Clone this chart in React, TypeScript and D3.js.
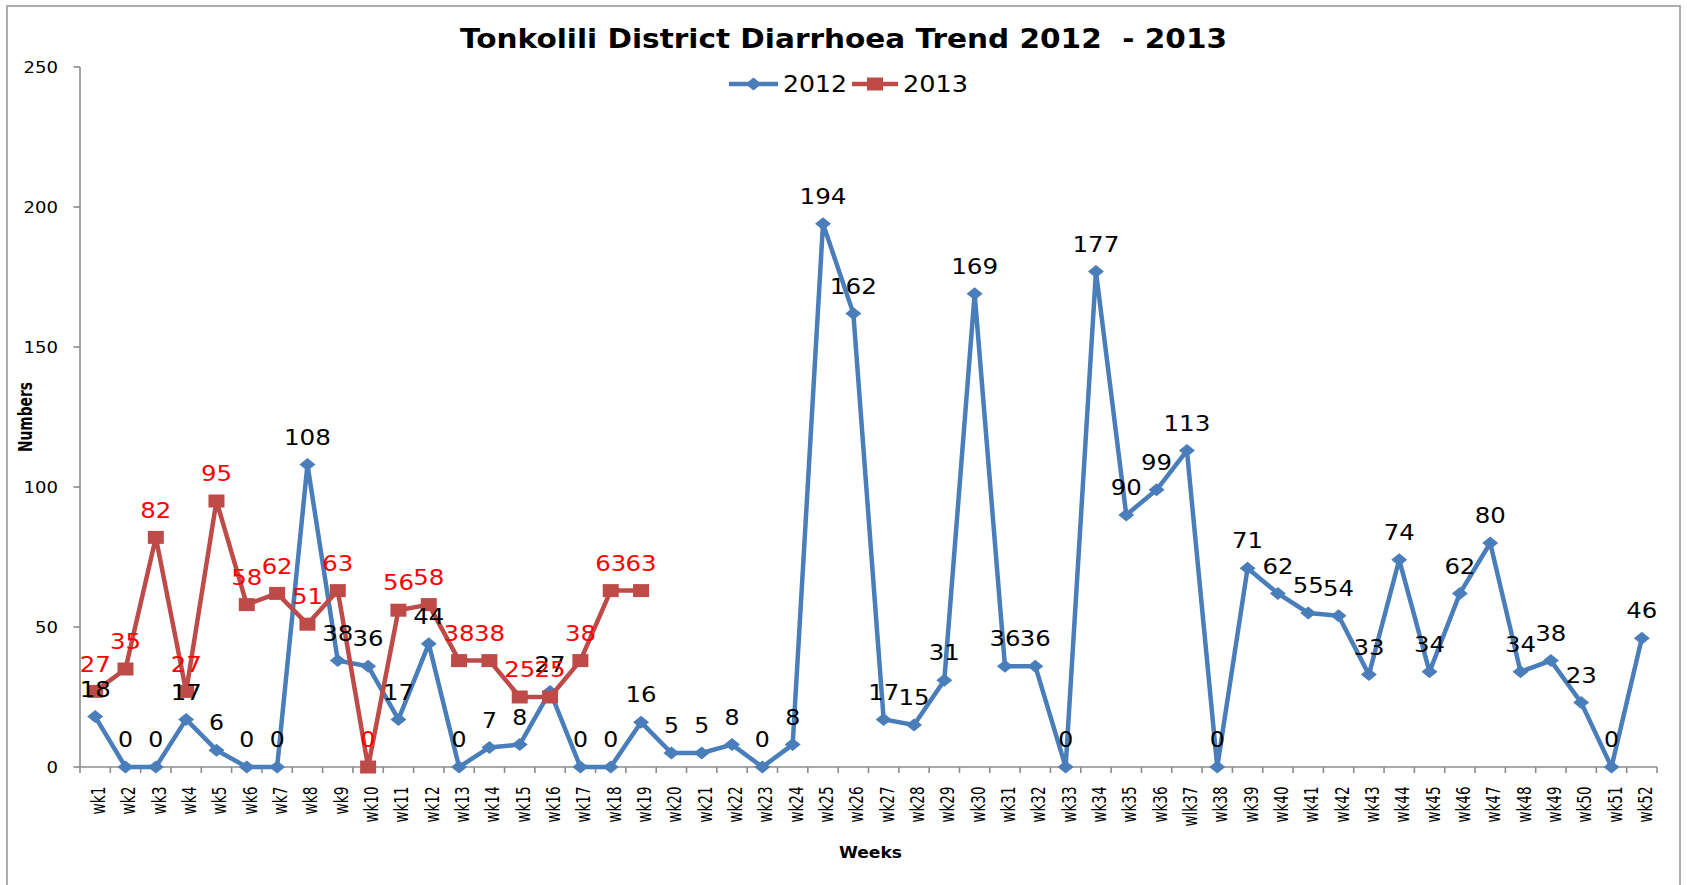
import React from "react";
import * as d3 from "d3";

const weeks = [
  "wk1","wk2","wk3","wk4","wk5","wk6","wk7","wk8","wk9","wk10",
  "wk11","wk12","wk13","wk14","wk15","wk16","wk17","wk18","wk19","wk20",
  "wk21","wk22","wk23","wk24","wk25","wk26","wk27","wk28","wk29","wk30",
  "wk31","wk32","wk33","wk34","wk35","wk36","wlk37","wk38","wk39","wk40",
  "wk41","wk42","wk43","wk44","wk45","wk46","wk47","wk48","wk49","wk50",
  "wk51","wk52",
];

const values2012 = [
  18, 0, 0, 17, 6, 0, 0, 108, 38, 36,
  17, 44, 0, 7, 8, 27, 0, 0, 16, 5,
  5, 8, 0, 8, 194, 162, 17, 15, 31, 169,
  36, 36, 0, 177, 90, 99, 113, 0, 71, 62,
  55, 54, 33, 74, 34, 62, 80, 34, 38, 23,
  0, 46,
];

const values2013 = [
  27, 35, 82, 27, 95, 58, 62, 51, 63, 0,
  56, 58, 38, 38, 25, 25, 38, 63, 63,
];

const yTicks = [0, 50, 100, 150, 200, 250];

const BLUE = "#4A7EBB";
const RED = "#BE4B48";
const AXIS = "#8C8C8C";
const NUM_FONT = "'DejaVu Sans', Verdana, sans-serif";
const BOLD_FONT = "'DejaVu Sans', sans-serif";

export default function App() {
  const W = 1687;
  const H = 885;
  const x = d3.scaleBand<string>().domain(weeks).range([80, 1657]).padding(0);
  const y = d3.scaleLinear().domain([0, 250]).range([767, 67]);
  const cx = (i: number) => (x(weeks[i]) as number) + x.bandwidth() / 2;

  const line = d3
    .line<number>()
    .x((_, i) => cx(i))
    .y((d) => y(d));

  const diamond = "M0,-6.5L8,0L0,6.5L-8,0Z";

  const boundaries = d3.range(weeks.length + 1).map((i) => 80 + i * x.bandwidth());

  const labelLen = (s: string) => 16 * s.length - 1;

  return (
    <svg
      width={W}
      height={H}
      style={{ position: "absolute", left: 0, top: 0, background: "#fff" }}
    >
      <rect x={0} y={0} width={W} height={H} fill="#fff" />
      {/* chart border */}
      <rect x={7} y={6} width={1673} height={H + 10} fill="none" stroke="#A6A6A6" strokeWidth={1.8} />

      {/* title */}
      <text
        x={843.5}
        y={48.3}
        textAnchor="middle"
        fontFamily={BOLD_FONT}
        fontWeight="bold"
        fontSize={26}
        textLength={767}
        lengthAdjust="spacingAndGlyphs"
        style={{ whiteSpace: "pre" }}
      >
        {"Tonkolili District Diarrhoea Trend 2012  - 2013"}
      </text>

      {/* legend */}
      <g>
        <line x1={729} x2={778} y1={84} y2={84} stroke={BLUE} strokeWidth={4.5} />
        <path d={diamond} transform="translate(753.5,84)" fill={BLUE} />
        <text x={783} y={91.7} fontFamily={NUM_FONT} fontSize={22.5} textLength={64} lengthAdjust="spacingAndGlyphs">2012</text>
        <line x1={852} x2={898} y1={84} y2={84} stroke={RED} strokeWidth={4.5} />
        <rect x={867} y={77.5} width={16} height={13} fill={RED} />
        <text x={903} y={91.7} fontFamily={NUM_FONT} fontSize={22.5} textLength={65} lengthAdjust="spacingAndGlyphs">2013</text>
      </g>

      {/* y axis */}
      <line x1={80} x2={80} y1={y(250)} y2={y(0)} stroke={AXIS} strokeWidth={1.6} />
      {yTicks.map((t) => (
        <g key={t}>
          <line x1={73.5} x2={80} y1={y(t)} y2={y(t)} stroke={AXIS} strokeWidth={1.6} />
          <text
            x={58}
            y={y(t) + 5.5}
            textAnchor="end"
            fontFamily={NUM_FONT}
            fontSize={15}
            textLength={11.5 * String(t).length}
            lengthAdjust="spacingAndGlyphs"
          >
            {t}
          </text>
        </g>
      ))}
      <text
        transform="translate(32,417) rotate(-90)"
        textAnchor="middle"
        fontFamily={BOLD_FONT}
        fontWeight="bold"
        fontSize={19}
        textLength={70}
        lengthAdjust="spacingAndGlyphs"
      >
        Numbers
      </text>

      {/* x axis */}
      <line x1={80} x2={1657} y1={y(0)} y2={y(0)} stroke={AXIS} strokeWidth={1.6} />
      {boundaries.map((b, i) => (
        <line key={i} x1={b} x2={b} y1={y(0)} y2={y(0) + 6} stroke={AXIS} strokeWidth={1.6} />
      ))}
      {weeks.map((w, i) => {
        const digits = w.replace(/[^0-9]/g, "").length;
        const extra = w.startsWith("wl") ? 4 : 0;
        return (
          <text
            key={w}
            transform={`translate(${cx(i) + 10},786.5) rotate(-90)`}
            textAnchor="end"
            fontFamily={NUM_FONT}
            fontSize={20}
            textLength={20 + 8 * digits + extra}
            lengthAdjust="spacingAndGlyphs"
          >
            {w}
          </text>
        );
      })}
      <text
        x={870.5}
        y={858}
        textAnchor="middle"
        fontFamily={BOLD_FONT}
        fontWeight="bold"
        fontSize={15.5}
        textLength={63}
        lengthAdjust="spacingAndGlyphs"
      >
        Weeks
      </text>

      {/* series 2012 */}
      <path d={line(values2012) || ""} fill="none" stroke={BLUE} strokeWidth={4.5} strokeLinejoin="round" />
      {values2012.map((v, i) => (
        <path key={i} d={diamond} transform={`translate(${cx(i)},${y(v)})`} fill={BLUE} />
      ))}

      {/* series 2013 */}
      <path d={line(values2013) || ""} fill="none" stroke={RED} strokeWidth={4.5} strokeLinejoin="round" />
      {values2013.map((v, i) => (
        <rect key={i} x={cx(i) - 8} y={y(v) - 6.5} width={16} height={13} fill={RED} />
      ))}

      {/* labels 2012 */}
      {values2012.map((v, i) => (
        <text
          key={i}
          x={cx(i)}
          y={y(v) - 19.8}
          textAnchor="middle"
          fontFamily={NUM_FONT}
          fontSize={20.5}
          fill="#000"
          textLength={labelLen(String(v))}
          lengthAdjust="spacingAndGlyphs"
        >
          {v}
        </text>
      ))}

      {/* labels 2013 */}
      {values2013.map((v, i) => (
        <text
          key={i}
          x={cx(i)}
          y={y(v) - 19.8}
          textAnchor="middle"
          fontFamily={NUM_FONT}
          fontSize={20.5}
          fill="#FF0000"
          textLength={labelLen(String(v))}
          lengthAdjust="spacingAndGlyphs"
        >
          {v}
        </text>
      ))}
    </svg>
  );
}
